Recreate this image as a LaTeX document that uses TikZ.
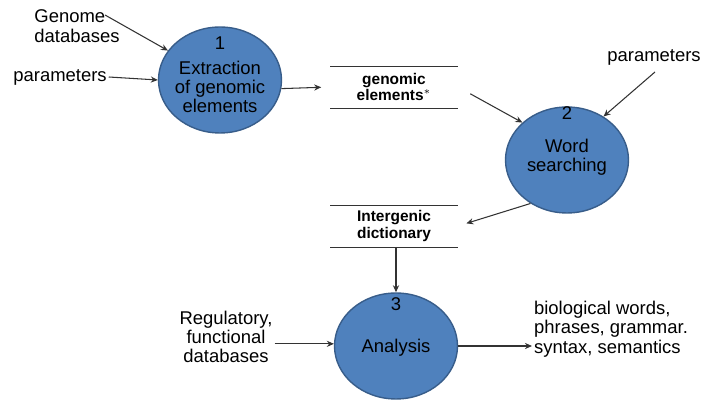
\documentclass[tikz,border=0pt]{standalone}
\usepackage{fontspec}
\setmainfont{Liberation Sans}
\usetikzlibrary{shapes.geometric,arrows.meta}

\definecolor{procfill}{HTML}{4F81BD}
\definecolor{procline}{HTML}{385D8A}
\definecolor{flowline}{HTML}{333333}

\tikzset{every node/.style={font=\fontsize{10.5}{11}\selectfont,inner sep=1pt,align=center},
process/.style={ellipse,draw=procline,fill=procfill,line width=0.8pt,minimum width=2.46cm,minimum height=2.12cm},
store/.style={minimum width=2.56cm,minimum height=0.84cm,font=\fontsize{8.8}{9.6}\selectfont\bfseries,outer sep=0pt},
flow/.style={draw=flowline,line width=0.6pt,-{Stealth[length=4pt,width=3.5pt]}}}

\begin{document}
\begin{tikzpicture}[x=0.02cm,y=-0.02cm]
\useasboundingbox (0,0) rectangle (701,401);
% processes
\path
(220,80) node[process](p1){}
(567,160) node[process](p2){}
(396,346) node[process](p3){};
\path
(220,43) node(n1){1}
(220,87) node(t1){Extraction\\of genomic\\elements}
(567,113) node(n2){2}
(567,157) node(t2){Word\\searching}
(396,304) node(n3){3}
(396,348) node(t3){Analysis};
% stores
\path
(394,87) node[store](s1){genomic\\elements$^{*}$}
(394,226) node[store](s2){Intergenic\\dictionary};
\path[draw,color=flowline] (s1.north west)--(s1.north east);
\path[draw,color=flowline] (s1.south west)--(s1.south east);
\path[draw,color=flowline] (s2.north west)--(s2.north east);
\path[draw,color=flowline] (s2.south west)--(s2.south east);
% sources and sinks
\path
(77,26) node[align=left](gdb){Genome\\databases}
(60,77) node(par1){parameters}
(654,57) node(par2){parameters}
(226,337) node(reg){Regulatory,\\functional\\databases}
(611,329) node[align=left](out){biological words,\\phrases, grammar.\\syntax, semantics};
\coordinate (g1) at (105,15);
\coordinate (q2) at (655,72);
% flows
\path[flow] (g1)--(p1);
\path[flow] (par1.east)--(p1.west);
\path[flow,shorten >=5] (p1.-8)--(s1.west);
\path[flow,shorten <=8] (s1.east)--(p2.140);
\path[flow] (q2)--(p2.50);
\path[flow,shorten >=5] (p2.-130)--(s2.east);
\path[flow] (s2.south -| p3.north)--(p3.north);
\path[flow] (reg.east |- p3.178)--(p3.178);
\path[flow] (p3.east)--(p3.east -| out.west);
\end{tikzpicture}
\end{document}
